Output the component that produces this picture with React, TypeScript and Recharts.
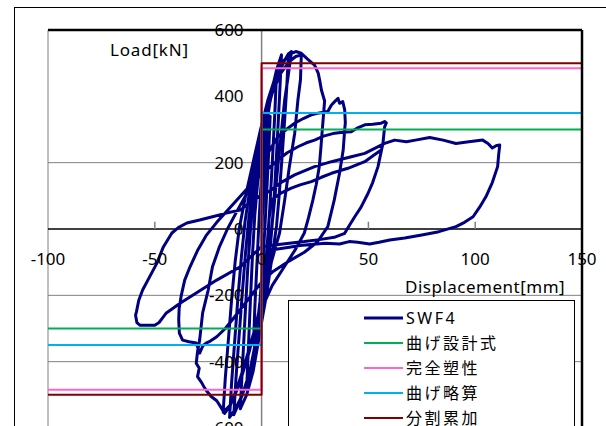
import { ComposedChart, Line, XAxis, YAxis, ReferenceLine, ReferenceDot } from 'recharts';

const FONT = "'Noto Sans', 'Noto Sans CJK JP', sans-serif";

// axis ticks
const xTicks = [-100, -50, 0, 50, 100, 150];
const yTicks = [600, 400, 200, 0, -200, -400, -600];
const xTickMarks = [-50, 50, 100];
const gridLoads = [200, -200, -400];

// design load levels [kN]
const bendDesign = 300;   // 曲げ設計式
const fullPlastic = 485;  // 完全塑性
const bendApprox = 350;   // 曲げ略算
const superposed = 500;   // 分割累加

// SWF4 hysteresis, [displacement mm, load kN], in loading order
const cyclesSmall: [number, number][] = [
  [0, 0], [1, 110], [2, 210], [3, 290], [4, 340], [3.3, 230], [2.4, 110], [1.5, 0], [0.5, -110], [-0.8, -220],
  [-2.2, -300], [-3.8, -350], [-3.2, -240], [-2.3, -120], [-1.4, 0],
  [-0.4, 120], [1, 230], [2.5, 320], [4.5, 410], [7, 470], [6.2, 350], [5, 200], [3.8, 60], [2.6, -50], [1, -170],
  [-1, -280], [-3, -370], [-5, -440], [-7, -485], [-6.2, -360], [-5.2, -210], [-4.2, -70], [-3.2, 40],
  [-2, 130], [0, 230], [2, 320], [4.5, 410], [7, 480], [9.3, 525], [8.4, 400], [7.2, 250], [6, 110], [4.8, 0],
  [3.2, -110], [1, -230], [-1.5, -340], [-4, -430], [-7, -500], [-10, -542], [-9, -420], [-7.8, -270], [-6.5, -120], [-5.2, 0],
];

const cycles14: [number, number][] = [
  [-3.5, 110], [-1, 220], [1.8, 320], [4.5, 400], [7.5, 460], [10.5, 505], [12.5, 528], [14, 535], [12.2, 450],
  [10.8, 389], [9.2, 289], [7.6, 188], [6.1, 87], [4.5, -12], [2.5, -110], [0, -220], [-2.5, -330], [-5.5, -430],
  [-9, -500], [-13, -560], [-12, -450], [-10.5, -320], [-9, -190], [-7.5, -70], [-6, 30],
  [-4, 130], [-1.5, 230], [1.5, 330], [5, 420], [8.5, 480], [11, 512], [12.5, 520], [11.8, 430], [10.8, 330],
  [9.5, 210], [8.2, 100], [7, 10], [5, -80], [2.5, -190], [-0.5, -300], [-4.5, -410], [-9, -500], [-12.5, -545],
  [-15, -568], [-14, -460], [-12.5, -330], [-11, -200], [-9.4, -80], [-7.8, 20],
];

const cycle19: [number, number][] = [
  [-5.5, 120], [-2.5, 220], [1, 320], [5, 410], [9, 470], [13, 505], [16, 520], [18.6, 525], [18.2, 450],
  [17, 389], [15.5, 289], [13, 188], [10.8, 87], [8.4, -12], [5, -90], [1.5, -170], [-2, -270], [-6, -375],
  [-10.5, -470], [-14.5, -530], [-18, -552], [-17, -450], [-15.5, -330], [-14, -210], [-12.4, -100], [-10.5, 0],
];

const cycles37: [number, number][] = [
  [-7.5, 100], [-4, 200], [-0.5, 300], [3, 390], [6.5, 460], [10, 505], [13.5, 528], [16, 535], [18.6, 530],
  [21.5, 512], [24.8, 494], [26.5, 470], [27.3, 445], [28, 419], [29.5, 386],
  [28.8, 330], [28.3, 290], [27.7, 240], [27, 188], [25.6, 135], [24, 87], [22, 35], [20, -12],
  [16, -60], [11, -110], [5, -170], [0, -240], [-4, -320], [-8, -410], [-11.5, -480], [-14.5, -530], [-17.3, -556],
  [-19, -538], [-21, -518], [-23.6, -505], [-25.5, -490], [-26.7, -479], [-28, -464], [-30, -445], [-29.2, -420], [-30.6, -405],
  [-30, -370], [-29, -335], [-27.6, -253], [-25, -184], [-23, -114], [-19.7, -53], [-16, 0], [-11, 60], [-5, 130],
  [0, 190], [4, 240], [7.6, 278],
  [11.5, 300], [15.5, 319], [19.5, 333], [23.3, 344], [27, 350], [31, 354], [32.7, 374], [34.2, 384], [35.8, 394],
  [36.5, 379], [38, 384], [38.9, 359],
  [39.2, 320], [38.9, 300], [38.2, 238], [36.5, 169], [34, 87], [31, 7],
  [26, -40], [20, -70], [12, -100], [5, -130], [0, -160], [-6, -210], [-12, -260], [-17, -300], [-21, -325],
  [-24, -338], [-26, -344], [-27.5, -352], [-29, -374], [-30.6, -344], [-34, -340], [-37, -335], [-38.5, -314],
  [-38.8, -274], [-38.6, -240], [-37.6, -200], [-36, -154], [-33.5, -114], [-30, -65], [-26, -20], [-21, 20],
  [-14, 70], [-7, 120], [0, 165], [7.6, 208],
];

const cycle58: [number, number][] = [
  [12, 230], [17, 248], [21, 260], [24.8, 268], [29, 280], [34.2, 289], [38, 292], [42, 293], [45, 305], [48.3, 314],
  [52, 316], [56, 319], [57.6, 324], [58.4, 320],
  [57.6, 308], [56.8, 258], [54.5, 188], [52, 140], [49.8, 107], [46.5, 65], [43.6, 37], [41, 10], [38.9, -13],
  [34, -25], [27, -32], [20, -38], [10, -45], [0, -53], [-10, -114], [-21, -154], [-30.6, -193], [-38, -223],
  [-44.6, -253], [-46, -265], [-48, -282], [-50, -290], [-52.5, -290], [-55, -290], [-57, -290], [-58.4, -282],
  [-59, -260], [-58.6, -250], [-57.5, -215], [-55.7, -184], [-52.5, -145], [-49, -103], [-46, -54], [-42, -12],
  [-39, 4], [-35, 18], [-29, 27], [-23, 37], [-16.5, 48], [-10, 57], [-4, 88],
];

const cycle110: [number, number][] = [
  [0, 102], [4, 115], [9, 140], [15.5, 163], [24.8, 188], [32.7, 203], [42, 218], [48.3, 228], [57.6, 258],
  [62.3, 268], [67.8, 263], [72, 268], [78.7, 276], [85, 268], [91, 258], [97, 263], [103.5, 268], [106, 258],
  [108, 244], [110, 252], [111.5, 253],
  [111, 225], [110.5, 188], [108, 140], [105, 97], [102, 65], [99, 37], [95, 20], [91, 7], [83, -8], [75, -18],
  [67, -27], [60, -33], [55, -40], [50.6, -45], [45, -40], [41, -38], [36.5, -45], [30, -43], [25.6, -45],
  [18, -50], [13, -55], [6, -62], [3.7, -65],
  [3, -30], [3.5, 30], [4.5, 87], [9, 108], [13.9, 123], [18, 133], [23.3, 143], [28, 156], [32.7, 168],
  [40.4, 183], [48.3, 203], [52, 220], [56, 238],
];

const swf4 = [...cyclesSmall, ...cycles14, ...cycle19, ...cycles37, ...cycle58, ...cycle110].map(([x, y]) => ({ x, y }));

// bilinear capacity lines: negative plateau, jump at zero, positive plateau
const capacity = (p: number) => [
  { x: -100, y: -p }, { x: 0, y: -p }, { x: 0, y: p }, { x: 150, y: p },
];

const series = [
  { name: 'SWF4', data: swf4, color: '#000080', width: 3 },
  { name: '曲げ設計式', data: capacity(bendDesign), color: '#00B050', width: 2 },
  { name: '完全塑性', data: capacity(fullPlastic), color: '#FF66CC', width: 2 },
  { name: '曲げ略算', data: capacity(bendApprox), color: '#00B0F0', width: 2 },
  { name: '分割累加', data: capacity(superposed), color: '#800000', width: 2 },
];

const labelFont = { fill: '#000', fontSize: 17, fontFamily: FONT };

function LegendBox() {
  return (
    <div style={{
      position: 'absolute', left: 288, top: 300, width: 285, height: 200,
      border: '1px solid #000', background: '#fff',
    }}>
      {series.map((s, i) => (
        <div key={s.name} style={{ position: 'absolute', left: 0, top: 5 + i * 25, height: 24, width: 285 }}>
          <svg width={40} height={24} style={{ position: 'absolute', left: 75, top: 0 }}>
            <line x1={0} y1={12} x2={39} y2={12} stroke={s.color} strokeWidth={s.width} />
          </svg>
          <span style={{
            position: 'absolute', left: 117, top: 0, lineHeight: '24px', fontSize: 16,
            letterSpacing: 2.5, color: '#000', whiteSpace: 'nowrap',
          }}>{s.name}</span>
        </div>
      ))}
    </div>
  );
}

export default function App() {
  return (
    <div style={{
      position: 'fixed', left: 0, top: 0, width: 606, height: 426, overflow: 'hidden',
      background: '#fff', fontFamily: FONT,
    }}>
      <div style={{ position: 'absolute', left: 14, top: 7, width: 800, height: 600, border: '1px solid #000' }} />
      <div style={{ position: 'absolute', left: 0, top: 0 }}>
        <ComposedChart width={606} height={440} margin={{ top: 30, right: 24, bottom: 12, left: 48 }}>
          <XAxis type="number" dataKey="x" domain={[-100, 150]} allowDataOverflow hide />
          <YAxis type="number" dataKey="y" domain={[-600, 600]} allowDataOverflow hide />

          {gridLoads.map(v => (
            <ReferenceLine key={`g${v}`} y={v} stroke="#808080" strokeWidth={1} />
          ))}
          <ReferenceLine x={-100} stroke="#808080" strokeWidth={1} />
          <ReferenceLine x={0} stroke="#808080" strokeWidth={1.5} />
          <ReferenceLine y={0} stroke="#000" strokeWidth={1.5} />
          {xTickMarks.map(v => (
            <ReferenceLine key={`t${v}`} segment={[{ x: v, y: 0 }, { x: v, y: 22 }]} stroke="#808080" strokeWidth={1.5} />
          ))}

          {series.map(s => (
            <Line key={s.name} data={s.data} dataKey="y" type="linear" stroke={s.color} strokeWidth={s.width}
              dot={false} activeDot={false} isAnimationActive={false} strokeLinejoin="round" />
          ))}

          <ReferenceLine y={600} stroke="#000" strokeWidth={2.5} />
          <ReferenceLine x={150} stroke="#000" strokeWidth={2.5} />

          {yTicks.map(v => (
            <ReferenceDot key={`yl${v}`} x={0} y={v} r={0} fill="none" stroke="none"
              label={{ value: String(v), position: 'left', offset: 18, ...labelFont }} />
          ))}
          {xTicks.map(v => (
            <ReferenceDot key={`xl${v}`} x={v} y={0} r={0} fill="none" stroke="none"
              label={{ value: String(v), position: 'bottom', offset: 24, ...labelFont }} />
          ))}
        </ComposedChart>
      </div>
      <div style={{ position: 'absolute', left: 110, top: 40, fontSize: 17, lineHeight: '20px', letterSpacing: 0.8 }}>
        Load[kN]
      </div>
      <div style={{ position: 'absolute', left: 405, top: 277, fontSize: 17, lineHeight: '20px', letterSpacing: 0.5 }}>
        Displacement[mm]
      </div>
      <LegendBox />
    </div>
  );
}
